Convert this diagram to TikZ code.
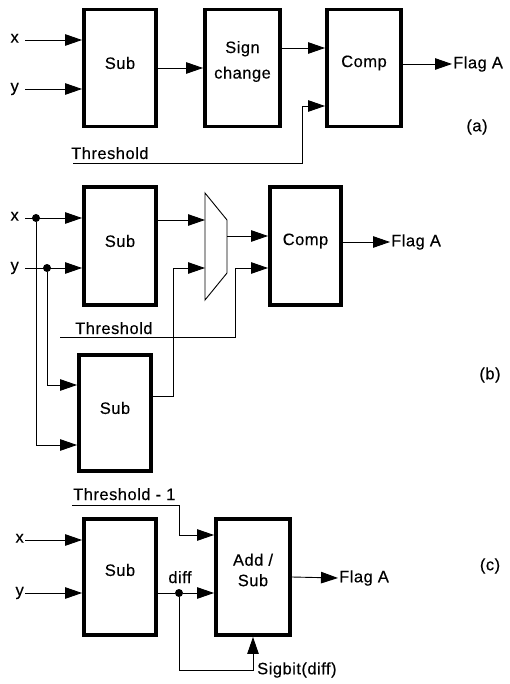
\documentclass[tikz,border=0pt]{standalone}
\usepackage{fontspec}
\setmainfont[LetterSpace=3, FakeBold=0.3]{Liberation Sans}
\usetikzlibrary{arrows.meta,calc,positioning}
\tikzset{
  blk/.style={draw, line width=3.9pt, minimum width=72pt, minimum height=117pt,
    align=center, inner sep=0pt},
  txt/.style={align=center, yshift=5pt},
  sig/.style={line width=0.9pt, -{Triangle[length=17pt,width=11.5pt]}},
  wire/.style={line width=0.9pt},
  lbl/.style={inner sep=1pt},
  inlbl/.style={lbl, anchor=mid east, inner xsep=6pt},
  dot/.style={circle, fill, inner sep=0pt, minimum size=8pt}
}
\begin{document}
\begin{tikzpicture}[x=1pt, y=-1pt, font=\fontsize{16.5}{20.5}\selectfont]
  \useasboundingbox (0,0) rectangle (509,684);
  % (a)
  \node[blk, label={[txt]center:Sub}] (suba) at (120,68) {};
  \node[blk, minimum width=75pt, label={[txt, yshift=1.5pt]center:{Sign\\[5pt]change}}] (signa) at (242.5,68) {};
  \node[blk, minimum width=74pt, label={[txt]center:Comp}] (compa) at (364,68) {};
  \node[inlbl] (xa) at (25,40) {x};
  \node[inlbl] (ya) at (25,89) {y};
  \node[lbl, anchor=west] (flaga) at (452,64) {Flag A};
  \node[lbl] (taga) at (477,127) {(a)};
  \node[lbl, anchor=base west] (thrlbla) at (70,159) {Threshold};
  \coordinate (thra) at (73,163);
  \draw[sig] (xa.mid east) -- (xa.mid east -| suba.west);
  \draw[sig] (ya.mid east) -- (ya.mid east -| suba.west);
  \draw[sig] (suba.east) -- (signa.west);
  \draw[sig] ($(signa.east)+(0,-20)$) -- ($(compa.west)+(0,-20)$);
  \draw[sig] (thra) -| ($(compa.west)+(-23,38)$) -- ($(compa.west)+(0,38)$);
  \draw[sig] (compa.east |- flaga.west) -- (flaga.west);

  % (b)
  \node[blk, minimum height=118pt, label={[txt]center:Sub}] (subb) at (120,246) {};
  \node[blk, minimum width=71pt, minimum height=118pt, label={[txt]center:Comp}] (compb) at (305.5,246) {};
  \node[blk, minimum height=116pt, label={[txt]center:Sub}] (subb2) at (115,413) {};
  \draw[wire] (205,193) -- (227,220) -- (227,273) -- (205,300) -- cycle;
  \coordinate (muxin1) at (205,220);
  \coordinate (muxin2) at (205,268);
  \coordinate (muxout) at (227,236);
  \node[inlbl] (xb) at (25,218) {x};
  \node[inlbl] (yb) at (25,268) {y};
  \node[dot] (xbd) at (36,218) {};
  \node[dot] (ybd) at (47,268) {};
  \draw[sig] (xb.mid east) -- (xb.mid east -| subb.west);
  \draw[sig] (yb.mid east) -- (yb.mid east -| subb.west);
  \draw[sig] (xbd) |- ($(subb2.west)+(0,32)$);
  \draw[sig] (ybd) |- ($(subb2.west)+(0,-28)$);
  \draw[sig] (subb.east |- muxin1) -- (muxin1);
  \draw[sig] ($(subb2.east)+(0,-17)$) -| ($(muxin2)+(-32,0)$) -- (muxin2);
  \draw[sig] (muxout) -- (muxout -| compb.west);
  \node[lbl, anchor=base west] (thrlblb) at (74,334) {Threshold};
  \coordinate (thrb) at (60,337);
  \draw[sig] (thrb) -| ($(compb.west)+(-33,22)$) -- ($(compb.west)+(0,22)$);
  \node[lbl, anchor=west] (flagb) at (390,242) {Flag A};
  \draw[sig] (compb.east |- flagb.west) -- (flagb.west);
  \node[lbl] (tagb) at (490,375) {(b)};

  % (c)
  \node[blk, minimum height=116pt, label={[txt, yshift=2pt]center:Sub}] (subc) at (120,577) {};
  \node[blk, minimum width=74pt, minimum height=116pt, label={[txt, yshift=2pt]center:{Add /\\Sub}}] (addc) at (253,577) {};
  \node[lbl, anchor=mid east] (xc) at (25,540) {x};
  \node[lbl, anchor=mid east] (yc) at (25,593) {y};
  \draw[sig] (xc.mid east) -- (xc.mid east -| subc.west);
  \draw[sig] (yc.mid east) -- (yc.mid east -| subc.west);
  \node[dot] (diffd) at (179,593) {};
  \node[lbl, anchor=base] (difflbl) at (180,583) {diff};
  \draw[wire] (subc.east |- diffd) -- (diffd);
  \draw[sig] (diffd) -- (diffd -| addc.west);
  \draw[sig] (diffd) |- ($(addc.south)+(0,33)$) -- (addc.south);
  \node[lbl, anchor=west] (sigbit) at (256,670) {Sigbit(diff)};
  \node[lbl, anchor=base west] (thrlblc) at (72,500) {Threshold - 1};
  \coordinate (thrc) at (72,505);
  \draw[sig] (thrc) -| ($(addc.west)+(-35,-42)$) -- ($(addc.west)+(0,-42)$);
  \node[lbl, anchor=west] (flagc) at (338,578) {Flag A};
  \draw[sig] (addc.east) -- (flagc.west);
  \node[lbl] (tagc) at (490,566) {(c)};
\end{tikzpicture}
\end{document}
